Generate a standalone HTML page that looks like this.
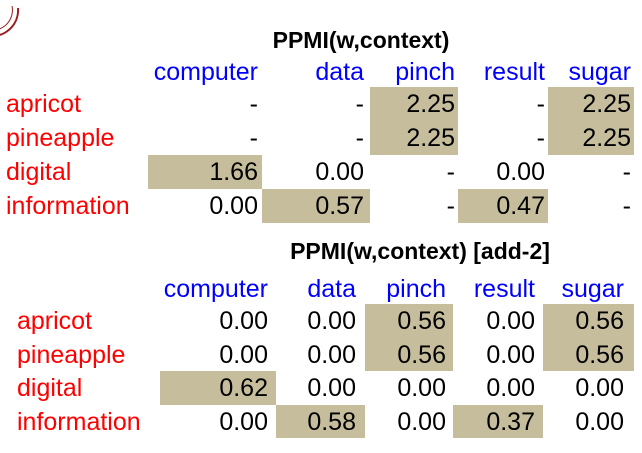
<!DOCTYPE html>
<html><head><meta charset="utf-8"><style>
body{margin:0;width:642px;height:453px;background:#fff;position:relative;overflow:hidden;font-family:"Liberation Sans",sans-serif;}
.t{position:absolute;white-space:nowrap;font-size:25px;line-height:34px;}
.h{color:#0000ff;text-align:right;}
.r{color:#ff0000;}
.v{color:#000;text-align:right;}
.s{position:absolute;background:#c5bd9b;}
.ti{position:absolute;font-weight:bold;font-size:23px;line-height:28px;white-space:nowrap;transform:translateX(-50%);}
</style></head><body>
<svg style="position:absolute;left:0;top:0" width="30" height="40"><path d="M-10 36 A 26 26 0 0 0 18 8" stroke="#9b1c1c" stroke-width="2" fill="none"/><path d="M-10 30 A 20 20 0 0 0 12 6" stroke="#9b1c1c" stroke-width="1" fill="none"/></svg>
<div id="root"></div>
<script>
const cols=["computer","data","pinch","result","sugar"];
const rows=["apricot","pineapple","digital","information"];
const vals1=[["-","-","2.25","-","2.25"],["-","-","2.25","-","2.25"],["1.66","0.00","-","0.00","-"],["0.00","0.57","-","0.47","-"]];
const shade1=[[0,0,1,0,1],[0,0,1,0,1],[1,0,0,0,0],[0,1,0,1,0]];
const vals2=[["0.00","0.00","0.56","0.00","0.56"],["0.00","0.00","0.56","0.00","0.56"],["0.62","0.00","0.00","0.00","0.00"],["0.00","0.58","0.00","0.37","0.00"]];
const shade2=[[0,0,1,0,1],[0,0,1,0,1],[1,0,0,0,0],[0,1,0,1,0]];
const root=document.getElementById('root');
function table(cfg,vals,shade,title,name){
  const t=document.createElement('div');t.className='ti';t.textContent=title;
  t.style.left=cfg.tx+'px';t.style.top=cfg.ty+'px';
  
  
  root.appendChild(t);
  cols.forEach((c,j)=>{
    const d=document.createElement('div');d.className='t h';d.textContent=c;
    d.style.left=(cfg.edges[j]-cfg.cw)+'px';d.style.width=cfg.cw+'px';d.style.top=cfg.hy+'px';
    
    
    root.appendChild(d);
  });
  rows.forEach((r,i)=>{
    const y=cfg.ry+i*cfg.rh;
    const l=document.createElement('div');l.className='t r';l.textContent=r;
    l.style.left=cfg.lx+'px';l.style.top=(y+cfg.off)+'px';
    
    
    root.appendChild(l);
    cols.forEach((c,j)=>{
      if(shade[i][j]){
        const s=document.createElement('div');s.className='s';
        s.style.left=cfg.sx[j]+'px';s.style.width=(cfg.sx[j+1]-cfg.sx[j])+'px';
        s.style.top=y+'px';s.style.height=cfg.rh+'px';
        
        
        root.appendChild(s);
      }
      const v=document.createElement('div');v.className='t v';v.textContent=vals[i][j];
      v.style.left=(cfg.edges[j]-80)+'px';v.style.width='80px';v.style.top=(y+cfg.off)+'px';v.style.zIndex=2;
      
      
      root.appendChild(v);
    });
  });
}
table({tx:361,ty:26,hy:55,cw:130,edges:[258,364,455,545,631],ry:87,rh:34,off:0,lx:6,sx:[148,262,370,458,548,634]},vals1,shade1,"PPMI(w,context)","ppmi");
table({tx:420,ty:237,hy:272,cw:130,edges:[268,356,446,535,624],ry:304,rh:33.5,off:0,lx:17,sx:[160,276,365,453,543,634]},vals2,shade2,"PPMI(w,context) [add-2]","ppmi-add2");
</script>
</body></html>
